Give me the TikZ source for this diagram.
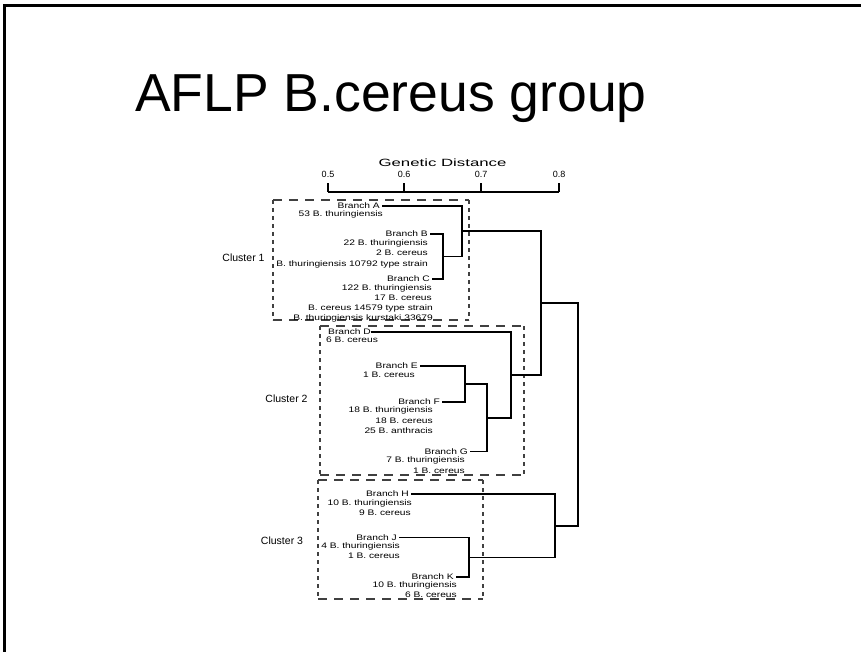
\documentclass[tikz,border=0pt]{standalone}
\usepackage{fontspec}
\setmainfont{Liberation Sans}
\usepackage{graphicx}
\usetikzlibrary{positioning}

\tikzset{
  title/.style={font=\fontsize{53.5}{60}\selectfont, inner sep=0pt, anchor=base},
  ticklbl/.style={font=\fontsize{9}{10}\selectfont, inner sep=0pt},
  axis/.style={line width=1.5pt},
  tree/.style={line width=1.5pt},
  smalltxt/.style={font=\fontsize{8}{9}\selectfont\addfontfeature{FakeStretch=1.28}},
  brlbl/.style={smalltxt, inner xsep=2pt, inner ysep=0pt, anchor=east},
  strain/.style={smalltxt, inner sep=0pt, anchor=east},
  clus/.style={font=\fontsize{10.5}{12}\selectfont, inner sep=0pt},
  hdash/.style={black!75, line width=1.2pt, dash pattern=on 9pt off 7pt},
  vdash/.style={black!75, line width=1.2pt, dash pattern=on 4pt off 4pt}
}

\begin{document}
\begin{tikzpicture}[x=1pt, y=-1pt]
    \useasboundingbox (0,0) rectangle (861,652);

    % Rahmen
    \draw[line width=3pt] (4.5,652) -- (4.5,6) -- (861,6);

    % Titel
    \node[title] (ttl) at (391,112) {AFLP B.cereus group};

    % --- Skala ---
    \node[ticklbl] (gd) at (442.5,163) {\scalebox{1.6}[1]{\fontsize{10.5}{12}\selectfont Genetic Distance}};
    \foreach \v/\x in {5/328, 6/404, 7/481, 8/559} {
        \coordinate (tk\v) at (\x,192);
        \node[ticklbl] (tl\v) at (\x,174) {0.\v};
        \draw[axis] (tk\v) -- ++(0,-9);
    }
    \draw[axis] (tk5) -- (tk8);

    % Cluster-Rahmen
    \foreach \a/\b/\c/\d in {273/200/469/320, 320/326/524/475, 318/480/483/599} {
        \draw[hdash] (\a,\b) -- (\c,\b) (\a,\d) -- (\c,\d);
        \draw[vdash] (\a,\b) -- (\a,\d) (\c,\b) -- (\c,\d);
    }
    \node[clus] (cl1) at (243.5,258) {Cluster 1};
    \node[clus] (cl2) at (286.5,399) {Cluster 2};
    \node[clus] (cl3) at (282,541) {Cluster 3};

    % --- Zweige ---
    \node[brlbl] (brA) at (382,206) {Branch A};
    \node[brlbl] (brB) at (430,234) {Branch B};
    \node[brlbl] (brC) at (432,279) {Branch C};
    \node[brlbl, anchor=west, inner xsep=0pt] (brD) at (328,332) {Branch D};
    \node[brlbl] (brE) at (420,366) {Branch E};
    \node[brlbl] (brF) at (442,402) {Branch F};
    \node[brlbl] (brG) at (470,451.5) {Branch G};
    \node[brlbl] (brH) at (411,494) {Branch H};
    \node[brlbl] (brJ) at (399,537.5) {Branch J};
    \node[brlbl] (brK) at (456,577) {Branch K};

    % Staemme unter den Zweigen
    \foreach \x/\y/\txt [count=\i] in {
        383/214.5/53 B. thuringiensis,
        428/243/22 B. thuringiensis, 428/253/2 B. cereus, 428/264/B. thuringiensis 10792 type strain,
        432/288/122 B. thuringiensis, 432/297.5/17 B. cereus, 433/308/B. cereus 14579 type strain,
        433/318/B. thuringiensis kurstaki 33679,
        415/375/1 B. cereus,
        433/410.5/18 B. thuringiensis, 433/420.5/18 B. cereus, 433/431/25 B. anthracis,
        465/460.5/7 B. thuringiensis, 465/470.5/1 B. cereus,
        412/503/10 B. thuringiensis, 411/513/9 B. cereus,
        400/546.5/4 B. thuringiensis, 400/556/1 B. cereus,
        457/585.5/10 B. thuringiensis, 457/595/6 B. cereus}
        \node[strain] (st\i) at (\x,\y) {\txt};
    \node[strain, anchor=west] (stD) at (326,340) {6 B. cereus};

    % Knoten des Baums
    \coordinate (nBC) at (443,256.5);
    \coordinate (nA) at (462,231);
    \coordinate (nEF) at (465,384);
    \coordinate (nG) at (487,418);
    \coordinate (nD) at (511,375);
    \coordinate (nC12) at (541,303);
    \coordinate (nJK) at (469,557.5);
    \coordinate (nH) at (555,526);
    \coordinate (nR) at (578,414.5);

    % Baum
    \draw[tree] (brB.east) -| (nBC) |- (brC.east);
    \draw[tree] (brA.east) -| (nA) |- (nBC);
    \draw[tree] (brE.east) -| (nEF) |- (brF.east);
    \draw[tree] (nEF) -| (nG) |- (brG.east);
    \draw[tree] (brD.east) -| (nD) |- (nG);
    \draw[tree] (nA) -| (nC12) |- (nD);
    \draw[tree] (brJ.east) -| (nJK) |- (brK.east);
    \draw[tree] (brH.east) -| (nH) |- (nJK);
    \draw[tree] (nC12) -| (nR) |- (nH);
\end{tikzpicture}
\end{document}
